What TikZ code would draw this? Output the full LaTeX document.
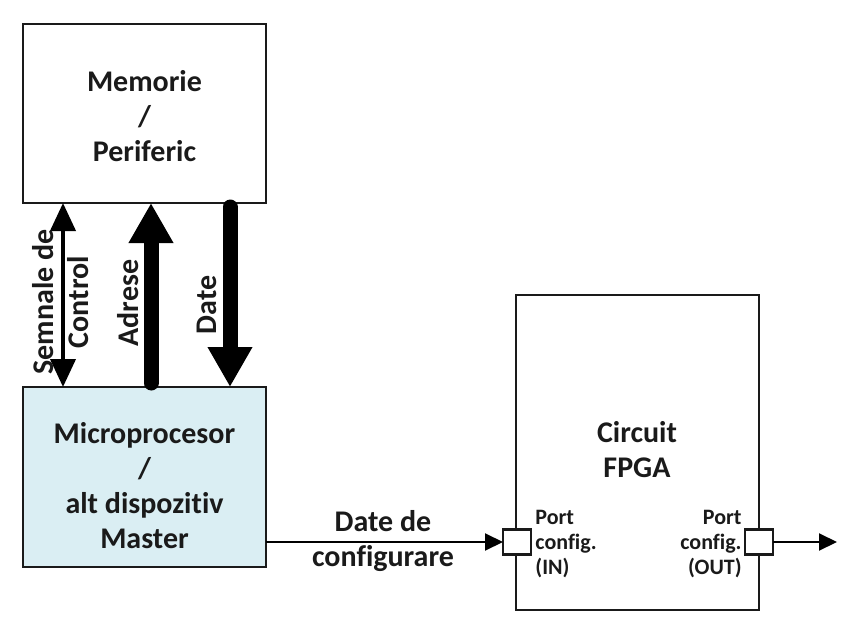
\documentclass[tikz,border=0pt]{standalone}
\usepackage{fontspec}
\setmainfont{Carlito}[Ligatures=NoCommon]
\usetikzlibrary{arrows.meta,positioning,calc}
\definecolor{mpfill}{HTML}{DAEEF3}
\definecolor{edge}{HTML}{1A1A1A}
\begin{document}
\begin{tikzpicture}[x=0.5pt,y=-0.5pt,
  box/.style={draw=edge, line width=1.2pt, inner sep=0pt, outer sep=0pt, align=center,
    font=\fontsize{15}{17.5}\selectfont\bfseries},
  port/.style={draw=edge, fill=white, line width=1.2pt, inner sep=0pt, outer sep=0pt,
    minimum width=14pt, minimum height=12.5pt},
  lbl/.style={inner sep=0pt, align=center, text=edge, font=\fontsize{15}{17.5}\selectfont\bfseries},
  plbl/.style={inner sep=0pt, text=edge, font=\fontsize{11}{12.5}\selectfont\bfseries},
  ctl/.style={line width=2pt, {Triangle[width=12.5pt,length=14pt]}-{Triangle[width=12.5pt,length=14pt]}},
  bus/.style={line width=7.5pt, line cap=round, -{Triangle[width=21pt,length=20pt]}},
  thin/.style={line width=1pt, -{Triangle[width=8.5pt,length=9pt]}}
]
\useasboundingbox (0,0) rectangle (862,642);
\node[box, minimum width=121.5pt, minimum height=89.5pt] (mem) at (144.5,113.5) {};
\node[lbl] (memtxt) at (144.5,116) {Memorie\\/\\Periferic};
\node[box, fill=mpfill, minimum width=121.5pt, minimum height=90pt] (mp) at (144.5,477) {};
\node[lbl] (mptxt) at (144.5,486) {Microprocesor\\/\\alt dispozitiv\\Master};
\node[box, minimum width=121.5pt, minimum height=157.5pt] (fpga) at (637.5,452.5) {};
\node[lbl] (ftxt) at (637,450) {Circuit\\FPGA};
\node[port] (pin) at (517,542) {};
\node[port] (pout) at (759,542) {};
\node[plbl, align=left, anchor=west] (lin) at (535,544) {Port\\config.\\(IN)};
\node[plbl, align=right, anchor=east] (lout) at (742,544) {Port\\config.\\(OUT)};
\coordinate (outend) at (837,542);
% vertical buses
\draw[ctl] ([xshift=20pt]mem.south west) -- ([xshift=20pt]mp.north west);
\draw[bus] ([xshift=64pt,yshift=2pt]mp.north west) -- ([xshift=64pt]mem.south west);
\draw[bus] ([xshift=103.5pt,yshift=-2pt]mem.south west) -- ([xshift=103.5pt]mp.north west);
\node[lbl, rotate=90] (lctl) at (61,302) {Semnale de\\Control};
\node[lbl, rotate=90] (ladr) at (128,303) {Adrese};
\node[lbl, rotate=90] (ldat) at (207,305) {Date};
% configuration data
\draw[thin] (mp.east |- pin.west) -- (pin.west);
\node[lbl] (lcfg) at (383,541) {Date de\\configurare};
\draw[thin] (pout.east) -- (outend);
\end{tikzpicture}
\end{document}
